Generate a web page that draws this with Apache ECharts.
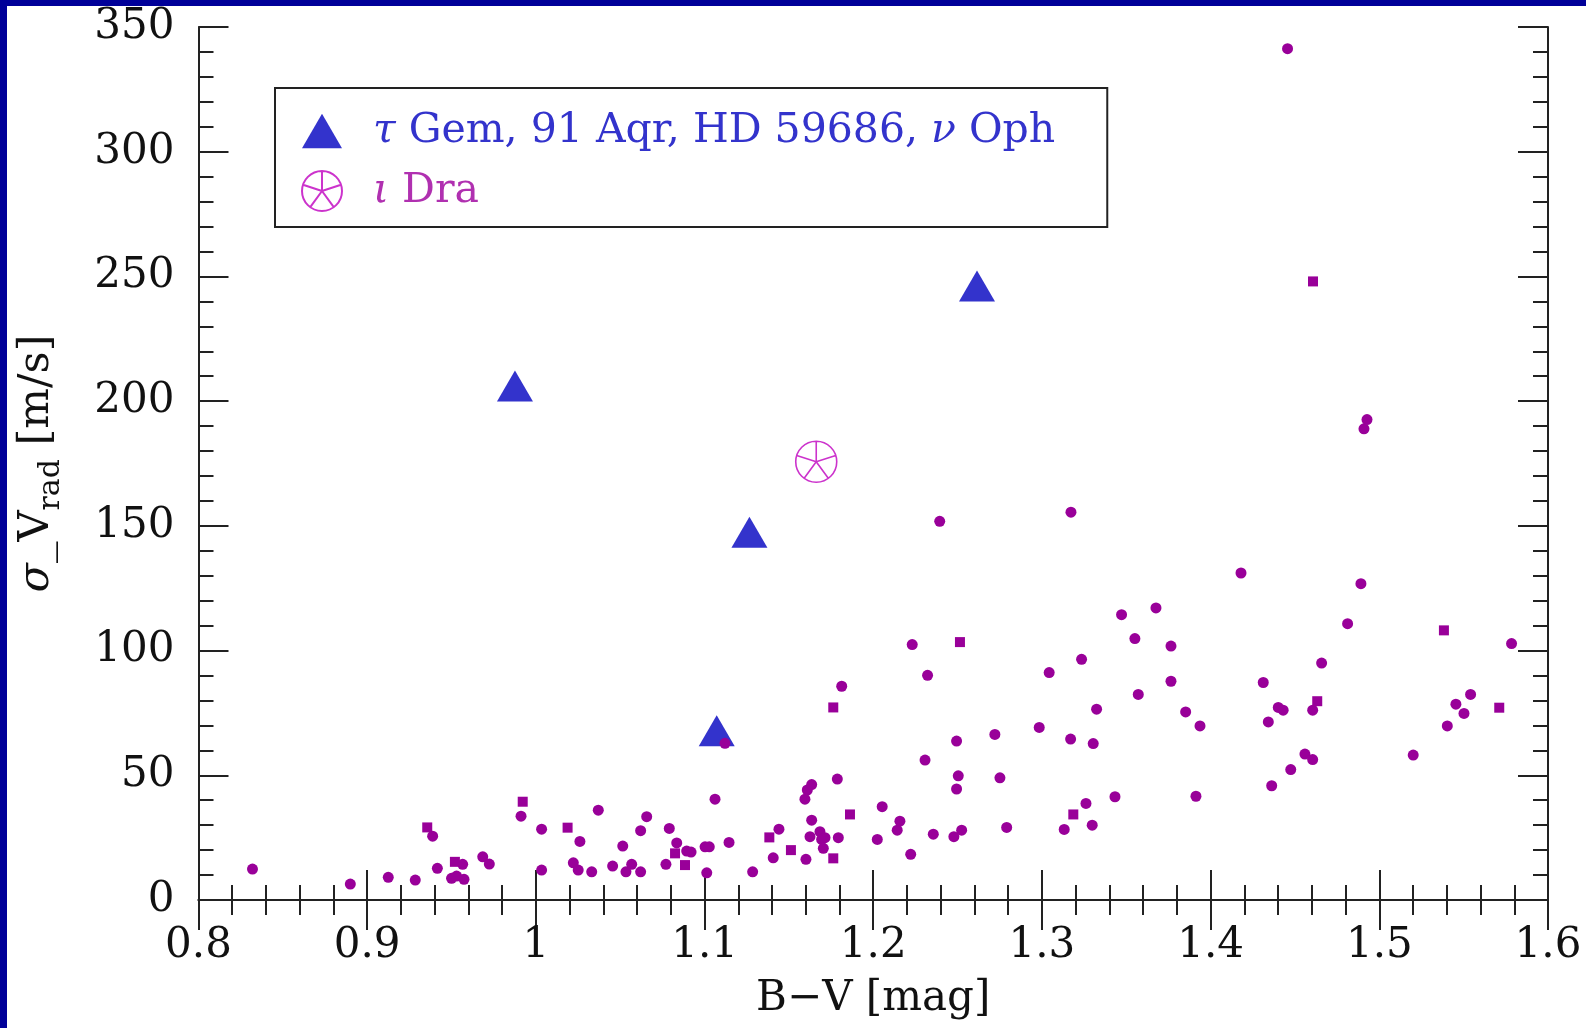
<!DOCTYPE html>
<html>
<head>
<meta charset="utf-8">
<script src="https://cdn.jsdelivr.net/npm/echarts@6/dist/echarts.min.js"></script>
<style>
html,body{margin:0;padding:0;background:#000099;width:1586px;height:1028px;overflow:hidden;}
#c{position:absolute;left:7px;top:6px;width:1579px;height:1022px;background:#ffffff;}
</style>
</head>
<body>
<div id="c"></div>
<script>
// ---- data ----
const triName = 'τ Gem, 91 Aqr, HD 59686, ν Oph';
const draName = 'ι Dra';
const triBV = [0.9876, 1.1266, 1.1072, 1.2615];
const triSig = [206.1, 147.4, 67.9, 246.2];
const draBV = [1.1662];
const draSig = [175.7];

const dotBV = [0.832,0.890,0.9125,0.9285,0.9388,0.9416,0.9566,0.950,0.953,0.9574,0.9685,0.9724,0.9912,1.0034,1.0034,
 1.0222,1.0251,1.0261,1.0331,1.037,1.0455,1.0515,1.0534,1.0568,1.0621,1.0621,1.0657,1.0771,1.0791,1.0835,1.0894,1.092,
 1.1003,1.1028,1.1013,1.1062,1.1121,1.1145,1.1285,1.1407,1.1441,1.1595,1.1609,1.1635,1.1601,1.1635,1.1625,1.1684,1.1694,
 1.1714,1.1704,1.1793,1.1787,1.1813,1.2024,1.2053,1.2142,1.2158,1.2222,1.2231,1.2322,1.2307,1.2356,1.2394,1.2478,1.2524,
 1.2494,1.2504,1.2494,1.2721,1.2751,1.2791,1.2984,1.3043,1.3132,1.3170,1.3172,1.3235,1.3261,1.3298,1.3304,1.3324,1.3433,
 1.3472,1.3551,1.3571,1.3676,1.3765,1.3765,1.3852,1.3913,1.3937,1.418,1.4312,1.4342,1.4362,1.4401,1.4430,1.4456,1.4475,
 1.4559,1.4605,1.4605,1.4658,1.4812,1.4891,1.4909,1.4927,1.5201,1.5403,1.5454,1.5502,1.5541,1.5784];
const dotSig = [12.4,6.4,9.1,8.0,25.6,12.7,14.3,8.7,9.6,8.3,17.3,14.4,33.6,28.4,12.0,
 14.9,12.0,23.5,11.3,36.0,13.6,21.6,11.3,14.3,27.8,11.3,33.4,14.3,28.7,22.9,19.6,19.2,
 21.3,21.3,10.9,40.4,62.8,23.1,11.3,16.9,28.4,40.4,44.1,46.3,16.3,32.0,25.4,27.4,24.3,
 25.0,20.7,25.0,48.5,85.7,24.3,37.4,28.0,31.6,18.3,102.4,90.1,56.1,26.4,151.8,25.4,28.0,
 44.5,49.8,63.7,66.4,49.0,29.1,69.2,91.2,28.3,64.5,155.5,96.5,38.7,30.0,62.7,76.5,41.4,
 114.4,104.8,82.4,117.1,101.8,87.7,75.4,41.6,69.8,131.1,87.2,71.4,45.8,77.2,76.1,341.3,52.3,
 58.5,56.3,76.1,95.0,110.8,126.8,188.9,192.6,58.1,69.8,78.5,74.8,82.4,102.8];

const sqBV = [0.9356,0.952,0.9922,1.0188,1.0825,1.0884,1.1384,1.1512,1.1763,1.1862,1.1763,1.2514,1.3186,1.4632,1.5383,1.5711,1.4607];
const sqSig = [29.1,15.3,39.4,29.0,18.7,14.0,25.1,20.0,16.7,34.3,77.2,103.4,34.3,79.7,108.1,77.1,248.0];

const xTicks = {min: 0.8, max: 1.6, step: 0.1};
const yTicks = {min: 0, max: 350, step: 50};

const zip = (a, b) => a.map((v, i) => [v, b[i]]);

const FONT = 'DejaVu Serif';
const FS = 42;
const LFS = 41;
const wheel = 'path://M0 -20A20 20 0 1 1 0 20A20 20 0 1 1 0 -20Z' +
  'M0 0L0 -20M0 0L19.02 -6.18M0 0L11.76 16.18M0 0L-11.76 16.18M0 0L-19.02 -6.18';

const axisCommon = {
  axisLine: {lineStyle: {color: '#222', width: 2}},
  axisTick: {inside: true, length: 30, lineStyle: {color: '#222', width: 2}},
  minorTick: {show: true, splitNumber: 5, length: 15, lineStyle: {color: '#222', width: 2}},
  splitLine: {show: false}
};

const chart = echarts.init(document.getElementById('c'), null, {renderer: 'canvas'});
chart.setOption({
  backgroundColor: '#ffffff',
  animation: false,
  grid: {left: 191, right: 38, top: 20, bottom: 128},
  legend: {
    left: 268, top: 82,
    orient: 'vertical',
    borderColor: '#222', borderWidth: 2,
    padding: [22, 52, 15, 26],
    itemGap: 18,
    itemWidth: 40, itemHeight: 40,
    selectedMode: false,
    data: [
      {name: triName, icon: 'path://M18 0L36 31L0 31Z'},
      {name: draName, icon: wheel}
    ],
    formatter: function (n) {
      if (n === triName) return '{gi|τ}{g| Gem, 91 Aqr, HD 59686, }{gj|ν}{g| Oph}';
      return '{mi|ι}{m| Dra}';
    },
    textStyle: {
      fontFamily: FONT, fontSize: LFS, lineHeight: 42,
      rich: {
        gi: {fontFamily: FONT, fontSize: LFS, fontStyle: 'italic', color: '#3333CC', padding: [0, 0, 0, 26]},
        gj: {fontFamily: FONT, fontSize: LFS, fontStyle: 'italic', color: '#3333CC'},
        g: {fontFamily: FONT, fontSize: LFS, color: '#3333CC'},
        mi: {fontFamily: FONT, fontSize: LFS, fontStyle: 'italic', color: '#B030B0', padding: [0, 0, 0, 26]},
        m: {fontFamily: FONT, fontSize: LFS, color: '#B030B0'}
      }
    }
  },
  xAxis: [
    Object.assign({}, axisCommon, {
      type: 'value', position: 'bottom',
      min: xTicks.min, max: xTicks.max, interval: xTicks.step,
      name: 'B−V [mag]', nameLocation: 'middle', nameGap: 78,
      nameTextStyle: {fontFamily: FONT, fontSize: FS, color: '#111'},
      axisLabel: {fontFamily: FONT, fontSize: FS, color: '#111', margin: 25,
        formatter: v => String(parseFloat(v.toFixed(2)))}
    }),
    Object.assign({}, axisCommon, {
      type: 'value', position: 'top',
      min: xTicks.min, max: xTicks.max, interval: xTicks.step,
      axisLabel: {show: false}
    })
  ],
  yAxis: [
    Object.assign({}, axisCommon, {
      type: 'value', position: 'left',
      min: yTicks.min, max: yTicks.max, interval: yTicks.step,
      name: '{s|σ}{n|_V}{sub|rad}{n| [m/s]}', nameLocation: 'middle', nameGap: 132,
      nameTextStyle: {
        fontFamily: FONT, fontSize: FS, color: '#111',
        rich: {
          s: {fontFamily: FONT, fontSize: 43, fontStyle: 'italic', color: '#111', lineHeight: 60, verticalAlign: 'middle'},
          n: {fontFamily: FONT, fontSize: 43, color: '#111', lineHeight: 60, verticalAlign: 'middle'},
          sub: {fontFamily: FONT, fontSize: 30, color: '#111', lineHeight: 30, verticalAlign: 'bottom'}
        }
      },
      axisLabel: {fontFamily: FONT, fontSize: FS, color: '#111', margin: 24}
    }),
    Object.assign({}, axisCommon, {
      type: 'value', position: 'right',
      min: yTicks.min, max: yTicks.max, interval: yTicks.step,
      axisLabel: {show: false}
    })
  ],
  series: [
    {
      name: triName, type: 'scatter', xAxisIndex: 0, yAxisIndex: 0,
      symbol: 'triangle', symbolSize: [36, 31],
      itemStyle: {color: '#3333CC', opacity: 1},
      data: zip(triBV, triSig)
    },
    {
      name: draName, type: 'scatter', xAxisIndex: 0, yAxisIndex: 0,
      symbol: wheel, symbolSize: 41, symbolKeepAspect: true,
      itemStyle: {color: 'rgba(0,0,0,0)', borderColor: '#CC33CC', borderWidth: 1.6, opacity: 1},
      data: zip(draBV, draSig)
    },
    {
      name: 'stars', type: 'scatter', xAxisIndex: 0, yAxisIndex: 0,
      symbol: 'circle', symbolSize: 11,
      itemStyle: {color: '#990099', opacity: 1},
      data: zip(dotBV, dotSig)
    },
    {
      name: 'stars2', type: 'scatter', xAxisIndex: 0, yAxisIndex: 0,
      symbol: 'rect', symbolSize: 10,
      itemStyle: {color: '#990099', opacity: 1},
      data: zip(sqBV, sqSig)
    }
  ]
});
</script>
</body>
</html>
